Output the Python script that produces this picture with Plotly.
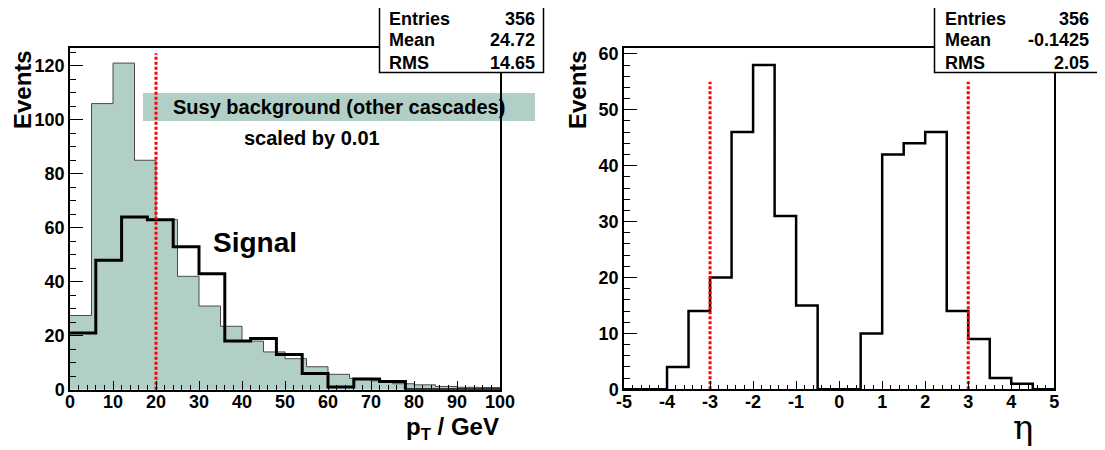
import plotly.graph_objects as go

# ---------------- data ----------------
# Left: pT distributions
pt_bg_edges_step = 5
pt_bg_values = [27.5, 106, 121, 85, 63, 42, 31, 23.5, 18, 14,
                11.5, 8.5, 5.7, 4.2, 3.3, 2.2, 1.8, 1.2, 0.9, 0.8]
pt_sig_edges_step = 6
pt_sig_values = [21, 48, 64, 63, 53, 43, 18, 19, 13, 6, 1, 4, 3, 0, 0, 0, 0]
pt_cut = 20
pt_cut_top = 124.6
pt_stats = [("Entries", "356"), ("Mean", "24.72"), ("RMS", "14.65")]
pt_xticks = [0, 10, 20, 30, 40, 50, 60, 70, 80, 90, 100]
pt_yticks = [0, 20, 40, 60, 80, 100, 120]

# Right: eta distribution
eta_edges_step = 0.5
eta_low = -5
eta_values = [0, 0, 4, 14, 20, 46, 58, 31, 15, 0,
              0, 10, 42, 44, 46, 14, 9, 2, 1, 0]
eta_cuts = [-3, 3]
eta_cut_top = 55
eta_stats = [("Entries", "356"), ("Mean", "-0.1425"), ("RMS", "2.05")]
eta_xticks = [-5, -4, -3, -2, -1, 0, 1, 2, 3, 4, 5]
eta_yticks = [0, 10, 20, 30, 40, 50, 60]

# ---------------- helpers ----------------
# The page body has an 8px margin, so the figure is drawn 8px in from the corner.
OFF = 8
W, H = 1105 - OFF, 450 - OFF
def px(x):
    return (x - OFF) / W
def py(y):
    return 1 - (y - OFF) / H

FILL = "#b1cfc7"
FONT = "Liberation Sans"

def step_xy(start, step, values):
    xs = [start + i * step for i in range(len(values) + 1)]
    ys = list(values) + [values[-1]]
    return xs, ys

fig = go.Figure()

# background histogram (filled)
bx, by = step_xy(0, pt_bg_edges_step, pt_bg_values)
fig.add_trace(go.Scatter(x=bx, y=by, mode="lines", line_shape="hv",
                         fill="tozeroy", fillcolor=FILL,
                         line=dict(color="#4a4a4a", width=1),
                         xaxis="x", yaxis="y", hoverinfo="skip"))
# signal histogram
sx, sy = step_xy(0, pt_sig_edges_step, pt_sig_values)
fig.add_trace(go.Scatter(x=sx, y=sy, mode="lines", line_shape="hv",
                         line=dict(color="black", width=3),
                         xaxis="x", yaxis="y", hoverinfo="skip"))
# cut line
fig.add_trace(go.Scatter(x=[pt_cut, pt_cut], y=[0, pt_cut_top], mode="lines",
                         line=dict(color="#ff0000", width=3, dash="3px,2px"),
                         xaxis="x", yaxis="y", hoverinfo="skip"))

# eta histogram
ex, ey = step_xy(eta_low, eta_edges_step, eta_values)
fig.add_trace(go.Scatter(x=ex, y=ey, mode="lines", line_shape="hv",
                         line=dict(color="black", width=2.5),
                         xaxis="x2", yaxis="y2", hoverinfo="skip"))
for c in eta_cuts:
    fig.add_trace(go.Scatter(x=[c, c], y=[0, eta_cut_top], mode="lines",
                             line=dict(color="#ff0000", width=3, dash="3px,2px"),
                             xaxis="x2", yaxis="y2", hoverinfo="skip"))

tickfont = dict(family=FONT, size=18, color="black", weight="bold")

def xax(domain, rng, ticks, minor_dtick, anchor):
    return dict(domain=domain, range=rng, anchor=anchor,
                tickmode="array", tickvals=ticks, ticktext=[str(t) for t in ticks],
                ticks="inside", ticklen=9, tickwidth=1, tickcolor="black",
                minor=dict(dtick=minor_dtick, ticks="inside", ticklen=5,
                           tickwidth=1, tickcolor="black"),
                showline=True, linecolor="black", linewidth=1.5, mirror=True,
                showgrid=False, zeroline=False, tickfont=tickfont,
                ticklabelstandoff=-5, fixedrange=True)

def yax(domain, rng, ticks, minor_dtick, anchor):
    return dict(domain=domain, range=rng, anchor=anchor,
                tickmode="array", tickvals=ticks, ticktext=[str(t) for t in ticks],
                ticks="inside", ticklen=13, tickwidth=1, tickcolor="black",
                minor=dict(dtick=minor_dtick, ticks="inside", ticklen=6.5,
                           tickwidth=1, tickcolor="black"),
                showline=True, linecolor="black", linewidth=1.5, mirror=True,
                showgrid=False, zeroline=False, tickfont=tickfont,
                fixedrange=True)

shapes = []
annotations = []

# label box "Susy background"
shapes.append(dict(type="rect", xref="paper", yref="paper",
                   x0=px(143), x1=px(535), y0=py(121), y1=py(93),
                   fillcolor=FILL, line=dict(width=0), layer="below"))
annotations.append(dict(text="Susy background (other cascades)", xref="paper", yref="paper",
                        x=px(339), y=py(107), showarrow=False, xanchor="center", yanchor="middle",
                        font=dict(family=FONT, size=20, color="black", weight="bold")))
annotations.append(dict(text="scaled by 0.01", xref="paper", yref="paper",
                        x=px(312), y=py(138), showarrow=False, xanchor="center", yanchor="middle",
                        font=dict(family=FONT, size=20, color="black", weight="bold")))
annotations.append(dict(text="Signal", xref="paper", yref="paper",
                        x=px(255), y=py(242), showarrow=False, xanchor="center", yanchor="middle",
                        font=dict(family=FONT, size=28, color="black", weight="bold")))

# stats boxes
def stats_box(x0, x1, stats):
    shapes.append(dict(type="rect", xref="paper", yref="paper",
                       x0=px(x0), x1=px(x1), y0=py(72.5), y1=py(5),
                       fillcolor="white", line=dict(color="black", width=1.5), layer="above"))
    for i, (lab, val) in enumerate(stats):
        yc = 18.5 + 22 * i
        annotations.append(dict(text=lab, xref="paper", yref="paper", x=px(x0 + 8), y=py(yc),
                                showarrow=False, xanchor="left", yanchor="middle",
                                font=dict(family=FONT, size=18, color="black", weight="bold")))
        annotations.append(dict(text=val, xref="paper", yref="paper", x=px(x1 - 7), y=py(yc),
                                showarrow=False, xanchor="right", yanchor="middle",
                                font=dict(family=FONT, size=18, color="black", weight="bold")))

stats_box(379.5, 543.5, pt_stats)
stats_box(934.5, 1098, eta_stats)

# axis titles
annotations.append(dict(text="Events", xref="paper", yref="paper", x=px(22.5), y=py(48),
                        textangle=-90, showarrow=False, xanchor="center", yanchor="top",
                        font=dict(family=FONT, size=24, color="black", weight="bold")))
annotations.append(dict(text="Events", xref="paper", yref="paper", x=px(577.5), y=py(48),
                        textangle=-90, showarrow=False, xanchor="center", yanchor="top",
                        font=dict(family=FONT, size=24, color="black", weight="bold")))
annotations.append(dict(text="p<sub>T</sub> / GeV", xref="paper", yref="paper", x=px(501), y=py(428),
                        showarrow=False, xanchor="right", yanchor="middle",
                        font=dict(family=FONT, size=24, color="black", weight="bold")))
annotations.append(dict(text="η", xref="paper", yref="paper", x=px(1023), y=py(427),
                        showarrow=False, xanchor="center", yanchor="middle",
                        font=dict(family="DejaVu Serif", size=34, color="black")))

fig.update_layout(
    width=W, height=H,
    margin=dict(l=0, r=0, t=0, b=0, autoexpand=False),
    paper_bgcolor="white", plot_bgcolor="white",
    showlegend=False,
    xaxis=xax([px(70), px(500)], [0, 100], pt_xticks, 2, "y"),
    yaxis=yax([py(389.7), py(47.7)], [0, 126.7], pt_yticks, 5, "x"),
    xaxis2=xax([px(624), px(1054.3)], [-5, 5], eta_xticks, 0.2, "y2"),
    yaxis2=yax([py(389.3), py(47.7)], [0, 61.1], eta_yticks, 2, "x2"),
    shapes=shapes, annotations=annotations,
)

fig.write_html("out.html", config={"displayModeBar": False})
